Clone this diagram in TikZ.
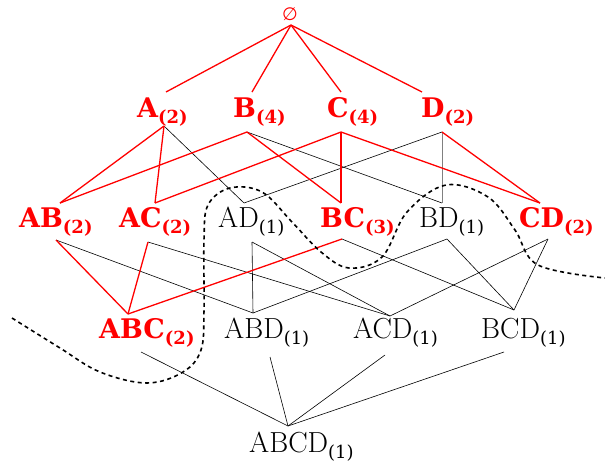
\documentclass[tikz,border=0pt]{standalone}
\usepackage{fontspec}
\newfontfamily\symfont{DejaVu Sans}
\newfontfamily\subfont{DejaVu Serif}
% support count written below the right of an itemset
\newcommand\lsub[1]{\raisebox{-6pt}{\fontsize{18}{20}\selectfont #1}}
\begin{document}
\begin{tikzpicture}[x=1pt,y=-1pt,
  lbl/.style={inner sep=0pt,anchor=base west,font=\fontsize{29}{30}\selectfont},
  freq/.style={lbl,text=red,font=\subfont\fontsize{27}{30}\selectfont\bfseries},
  edge/.style={line width=0.6pt,black},
  fedge/.style={line width=1.3pt,red},
  border/.style={line width=1.6pt,dash pattern=on 4pt off 3.5pt}]
\useasboundingbox (0,0) rectangle (605,461);

% empty set
\node[inner sep=0pt,text=red,font=\symfont\fontsize{18}{20}\selectfont] (E) at (290,14) {∅};
% level 1
\node[freq] (A) at (137,117) {A\lsub{(2)}};
\node[freq] (B) at (233,117) {B\lsub{(4)}};
\node[freq] (C) at (327,117) {C\lsub{(4)}};
\node[freq] (D) at (421,117) {D\lsub{(2)}};
% level 2
\node[freq] (AB) at (19,227) {AB\lsub{(2)}};
\node[freq] (AC) at (119,227) {AC\lsub{(2)}};
\node[lbl]  (AD) at (218,227) {AD\lsub{\subfont(1)}};
\node[freq] (BC) at (320,227) {BC\lsub{(3)}};
\node[lbl]  (BD) at (419,227) {BD\lsub{\subfont(1)}};
\node[freq] (CD) at (519,227) {CD\lsub{(2)}};
% level 3
\node[freq] (ABC) at (99,338) {ABC\lsub{(2)}};
\node[lbl]  (ABD) at (224,338) {ABD\lsub{\subfont(1)}};
\node[lbl]  (ACD) at (353,338) {ACD\lsub{\subfont(1)}};
\node[lbl]  (BCD) at (481,338) {BCD\lsub{\subfont(1)}};
% level 4
\node[lbl]  (ABCD) at (249,452) {ABCD\lsub{\subfont(1)}};

% connection points above and below each label
\coordinate (Eb) at (291,25);
\coordinate (At) at (166,92);  \coordinate (Ab) at (164,126);
\coordinate (Bt) at (252,92);  \coordinate (Bb) at (247,132);
\coordinate (Ct) at (341,92);  \coordinate (Cb) at (341,132);
\coordinate (Dt) at (422,92);  \coordinate (Db) at (442,132);
\coordinate (ABt) at (60,203);  \coordinate (ABb) at (56,240);
\coordinate (ACt) at (155,203); \coordinate (ACb) at (148,242);
\coordinate (ADt) at (244,203); \coordinate (ADb) at (252,242);
\coordinate (BCt) at (341,203); \coordinate (BCb) at (342,239);
\coordinate (BDt) at (442,203); \coordinate (BDb) at (447,239);
\coordinate (CDt) at (540,203); \coordinate (CDb) at (548,239);
\coordinate (ABCt) at (128,314); \coordinate (ABCb) at (141,352);
\coordinate (ABDt) at (253,313); \coordinate (ABDb) at (270,357);
\coordinate (ACDt) at (390,316); \coordinate (ACDb) at (385,355);
\coordinate (BCDt) at (514,310); \coordinate (BCDb) at (504,352);
\coordinate (ABCDt) at (288,426);

% infrequent links
\draw[edge] (Ab) -- (ADt);
\draw[edge] (Bb) -- (BDt);
\draw[edge] (Db) -- (ADt);
\draw[edge,gray] (Db) -- (BDt);
\draw[edge] (ABb) -- (ABDt);
\draw[edge] (ACb) -- (ACDt);
\draw[edge] (ADb) -- (ABDt);
\draw[edge] (ADb) -- (ACDt);
\draw[edge] (BCb) -- (BCDt);
\draw[edge] (BDb) -- (ABDt);
\draw[edge] (BDb) -- (BCDt);
\draw[edge] (CDb) -- (ACDt);
\draw[edge] (CDb) -- (BCDt);
\draw[edge] (ABCb) -- (ABCDt);
\draw[edge] (ABDb) -- (ABCDt);
\draw[edge] (ACDb) -- (ABCDt);
\draw[edge] (BCDb) -- (ABCDt);

% frequent links
\draw[fedge] (Eb) -- (At);
\draw[fedge] (Eb) -- (Bt);
\draw[fedge] (Eb) -- (Ct);
\draw[fedge] (Eb) -- (Dt);
\draw[fedge] (Ab) -- (ABt);
\draw[fedge] (Ab) -- (ACt);
\draw[fedge] (Bb) -- (ABt);
\draw[fedge] (Bb) -- (BCt);
\draw[fedge] (Cb) -- (ACt);
\draw[fedge] (Cb) -- (BCt);
\draw[fedge] (Cb) -- (CDt);
\draw[fedge] (Db) -- (CDt);
\draw[fedge] (ABb) -- (ABCt);
\draw[fedge] (ACb) -- (ABCt);
\draw[fedge] (BCb) -- (ABCt);

% border between frequent and infrequent itemsets
\draw[border] plot[smooth,tension=0.6] coordinates {
  (12,318) (60,348) (100,372) (147,383) (183,372) (201,350) (204,310)
  (204,240) (208,205) (230,188) (262,192) (292,222) (321,252) (349,268)
  (382,257) (407,212) (446,185) (488,197) (515,230) (538,265) (605,278)};
\end{tikzpicture}
\end{document}
